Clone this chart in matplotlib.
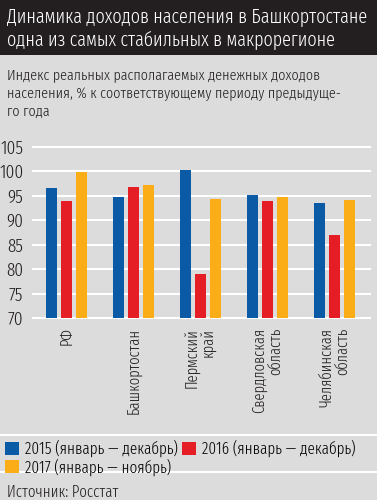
import matplotlib
matplotlib.use('Agg')
import matplotlib.pyplot as plt
import numpy as np

plt.rcParams['font.family'] = ['Fira Sans Extra Condensed', 'DejaVu Sans']
plt.rcParams['font.weight'] = 300

regions = ['РФ', 'Башкортостан', 'Пермский\nкрай', 'Свердловская\nобласть', 'Челябинская\nобласть']
v2015 = [96.6, 94.7, 100.3, 95.1, 93.6]
v2016 = [94.0, 96.9, 79.1, 94.0, 86.9]
v2017 = [99.8, 97.3, 94.3, 94.7, 94.2]
series_names = ['2015 (январь — декабрь)', '2016 (январь — декабрь)', '2017 (январь — ноябрь)']
colors = ['#0b5aa6', '#e51e25', '#fbad18']
yticks = [70, 75, 80, 85, 90, 95, 100, 105]

bg = '#dcdcdc'
ink = '#231f20'
W, H = 377, 500
fig = plt.figure(figsize=(W / 100, H / 100), dpi=100, facecolor=bg)

# title bar
fig.patches.append(plt.Rectangle((0, 1 - 55 / H), 1, 55 / H, transform=fig.transFigure,
                                 facecolor=ink, edgecolor='none'))
fig.text(7 / W, 1 - 16 / H, 'Динамика доходов населения в Башкортостане', color='white',
         fontsize=14.2, va='center', ha='left')
fig.text(7 / W, 1 - 40 / H, 'одна из самых стабильных в макрорегионе', color='white',
         fontsize=14.2, va='center', ha='left')

sub = 'Индекс реальных располагаемых денежных доходов\nнаселения, % к соответствующему периоду предыдуще-\nго года'
fig.text(7 / W, 1 - 68 / H, sub, color=ink, fontsize=11.1, va='top', ha='left',
         linespacing=1.35)

ax = fig.add_axes([33 / W, 182 / H, 337 / W, 171 / H])
ax.set_facecolor(bg)
x = np.arange(len(regions))
w = 0.175
step = 0.224
for i, (vals, c) in enumerate(zip([v2015, v2016, v2017], colors)):
    ax.bar(x + (i - 1) * step, np.array(vals) - 70, bottom=70, width=w, color=c,
           label=series_names[i], zorder=3)
ax.set_ylim(70, 105)
ax.set_xlim(-0.5, 4.53)
for t in yticks:
    ax.axhline(t, color='white', lw=1.5, zorder=1, clip_on=False)
ax.set_yticks(yticks)
ax.set_yticklabels([str(t) for t in yticks], fontsize=13.5, color=ink)
ax.set_xticks(x)
ax.set_xticklabels(regions, rotation=90, fontsize=11.4, color=ink, va='top',
                   ha='center', multialignment='right', linespacing=1.0)
ax.tick_params(length=0, axis='y', pad=7)
ax.tick_params(length=0, axis='x', pad=7)
for s in ax.spines.values():
    s.set_visible(False)

# separators
for yy in [435, 472]:
    fig.add_artist(plt.Line2D([0, 1], [1 - yy / H, 1 - yy / H], color='white', lw=1.5,
                              transform=fig.transFigure))

h, l = ax.get_legend_handles_labels()
order = [0, 2, 1]
fig.legend([h[k] for k in order], [l[k] for k in order], loc='upper left',
           bbox_to_anchor=(5 / W, 1 - 440 / H), ncol=2, frameon=False, fontsize=11.8,
           handlelength=0.85, handleheight=0.85, handletextpad=0.4, columnspacing=0.2,
           labelspacing=0.05, borderpad=0, borderaxespad=0)

fig.text(7 / W, 1 - 492 / H, 'Источник: Росстат', color=ink, fontsize=11.6,
         va='center', ha='left')

fig.savefig('out.png', dpi=100, facecolor=bg)
